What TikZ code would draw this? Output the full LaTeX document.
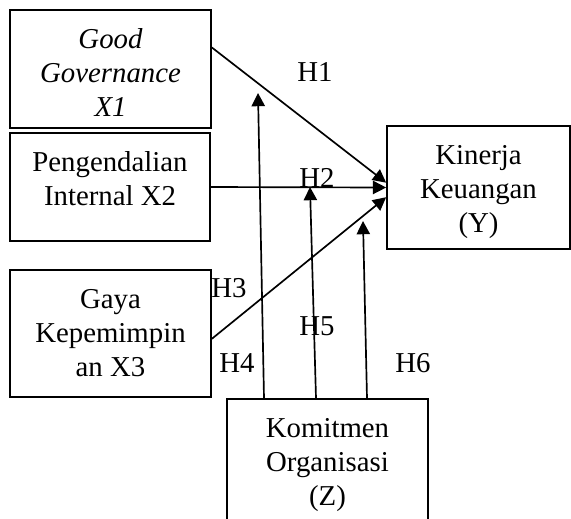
\documentclass[tikz,border=0pt]{standalone}
\usepackage{fontspec}
\setmainfont{Liberation Serif}
\usepackage{tikz}
\usetikzlibrary{arrows.meta,calc}

\newlength{\pxlen}
\setlength{\pxlen}{0.4167pt}
% text box, aligned to the top as in the original figure
\newcommand{\boxlines}[3]{\parbox[c][\dimexpr #2\pxlen-11.8pt\relax][t]{#1\pxlen}{\centering\strut #3}}

\begin{document}
\begin{tikzpicture}[
    x=\pxlen, y=-\pxlen,
    font=\fontsize{12pt}{14.2pt}\selectfont,
    line width=0.7pt,
    var_box/.style = {rectangle, draw=black, line width=0.7pt, inner xsep=0pt, inner ysep=5.9pt},
    link/.style = {-{Triangle[length=5.5pt, width=5.5pt]}, draw=black, line width=0.7pt}
    ]
    \useasboundingbox (0,0) rectangle (571,518);
    \clip (0,0) rectangle (571,518);
    \tikzstyle{hyp_label} = [inner sep=0pt]
    \node[var_box] (X1) at (110.5,69) {\boxlines{201}{118}{\textit{Good}\\ \textit{Governance}\\ \textit{X1}}};
    \node[var_box] (X2) at (110,187) {\boxlines{200}{108}{Pengendalian\\ Internal X2}};
    \node[var_box] (X3) at (110.5,333.5) {\boxlines{201}{127}{Gaya\\ Kepemimpin\\ an X3}};
    \node[var_box] (Y) at (478.5,187.5) {\boxlines{183}{123}{Kinerja\\ Keuangan\\ (Y)}};
    \node[var_box] (Z) at (327.5,463) {\boxlines{201}{128}{Komitmen\\ Organisasi\\ (Z)}};

    \coordinate (tip4) at (258,93);
    \coordinate (tip5) at (310,187);
    \coordinate (tip6) at (363,221);

    \draw[link] (X1.12) -- (Y.177);
    \draw[link] (X2.east) -- (Y.west);
    \draw[link] (X3.-3) -- (Y.186);
    \draw[link] ($(Z.north)+(-63.5,0)$) -- (tip4);
    \draw[link] ($(Z.north)+(-11.5,0)$) -- (tip5);
    \draw[link] ($(Z.north)+(39.5,0)$) -- (tip6);

    \node[hyp_label] (h1) at (315,72) {H1};
    \node[hyp_label] (h2) at (317,178) {H2};
    \node[hyp_label] (h3) at (229,288) {H3};
    \node[hyp_label] (h4) at (237,363) {H4};
    \node[hyp_label] (h5) at (317,326) {H5};
    \node[hyp_label] (h6) at (413,363) {H6};
\end{tikzpicture}
\end{document}
